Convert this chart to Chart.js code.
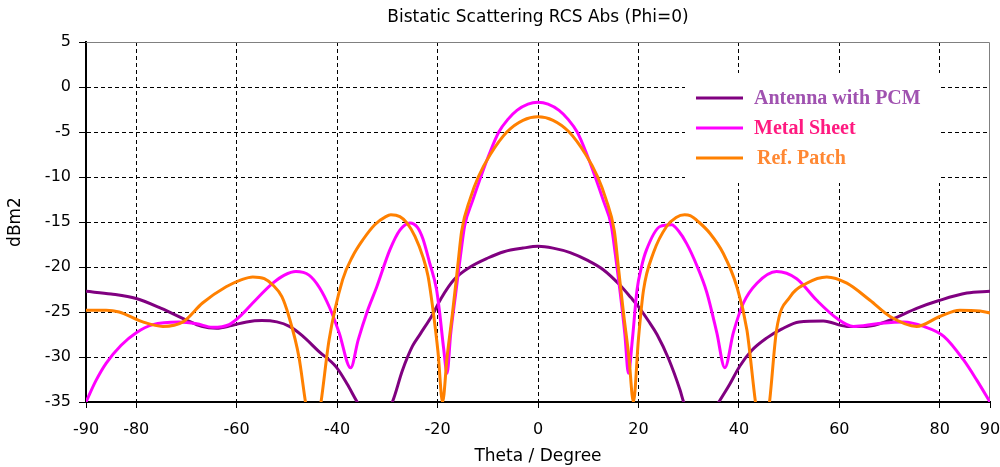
<!DOCTYPE html>
<html lang="en">
<head>
<meta charset="UTF-8">
<title>Bistatic Scattering RCS Abs (Phi=0)</title>
<script src="https://cdn.jsdelivr.net/npm/chart.js"></script>
<style>
  html, body { margin: 0; padding: 0; background: #fff; }
  canvas { display: block; }
</style>
</head>
<body>
<canvas id="rcsChart" width="1000" height="467"></canvas>
<script>
// values (theta in degrees, RCS in dBm2)
const chartTitle = 'Bistatic Scattering RCS Abs (Phi=0)';
const xTickValues = [-90, -80, -60, -40, -20, 0, 20, 40, 60, 80, 90];

const pcmTheta = [-90, -85, -80, -75, -70, -67, -64, -61, -58, -55, -52, -49.5, -47, -43.6, -40.2, -38, -36,
  -32.5, -29, -27, -25, -23.4, -21, -19.3, -16.7, -13.5, -10, -6.8, -3, 0, 3, 6.4, 10, 13, 16.3, 18.5,
  20, 22, 23.7, 26, 28.3, 29, 32.5, 36, 38, 40.2, 42.5, 45.5, 48.5, 52, 56.8, 61.5, 65.4, 70.1, 75.4, 80, 85.4, 90];
const pcmDb = [-22.7, -23.0, -23.5, -24.6, -25.9, -26.6, -26.8, -26.5, -26.1, -25.95, -26.1, -26.6, -27.6, -29.4, -31.1, -33.0, -35,
  -38, -35, -31.5, -28.8, -27.4, -25.3, -23.5, -21.4, -20.0, -19.0, -18.3, -17.9, -17.7, -17.9, -18.4, -19.3, -20.3, -22.0, -23.4,
  -24.4, -26.0, -27.5, -30.2, -33.7, -35, -38, -35, -33.2, -31.0, -29.3, -27.9, -26.9, -26.1, -26.0, -26.6, -26.6, -25.9, -24.6, -23.7, -22.9, -22.7];

const metalTheta = [-90, -88, -86, -83, -80, -76.7, -71.5, -68, -64.8, -61.5, -59, -56.8, -52.8, -50.5, -48.2, -45.6,
  -43.5, -41.5, -39.6, -37.3, -35.8, -34.1, -32.1, -29.5, -27.5, -25.5, -24, -22.9, -21.6, -20.2, -19.6, -18.8, -18.1,
  -17.4, -16.4, -15.4, -14.6, -13, -11.4, -9.6, -7.8, -6, -4.2, -2, 0, 2, 4.2, 6, 7.8, 9.6, 11.4, 13, 14.6, 15.4,
  16.4, 17.3, 18, 18.8, 19.7, 20.6, 21.6, 24.3, 26.6, 28, 29.6, 31.6, 33.6, 35.6, 37.2, 38.9, 40.9, 43.6, 47.5, 51.5, 55.5,
  59.5, 62.8, 67.5, 72.8, 76.8, 80.8, 84.7, 87.4, 90];
const metalDb = [-35, -32.6, -30.7, -28.7, -27.3, -26.4, -26.1, -26.3, -26.7, -26.4, -25.3, -24.0, -21.8, -20.9, -20.5, -20.9,
  -22.3, -24.5, -27.3, -31.2, -28.1, -25.1, -22.2, -18.1, -15.9, -15.1, -15.6, -16.9, -19.5, -22.5, -25.0, -29.0, -31.8,
  -27.5, -23.0, -18.6, -15.4, -12.6, -10.0, -7.3, -5.0, -3.6, -2.6, -1.9, -1.7, -1.9, -2.6, -3.6, -5.0, -7.3, -10.0, -12.6, -15.4, -18.6,
  -23.0, -27.5, -31.8, -28.0, -22.6, -20.0, -18.1, -15.5, -15.3, -16.0, -17.4, -19.8, -22.8, -27.3, -31.2, -27.3, -24.0, -21.8, -20.5, -21.3, -23.7,
  -25.7, -26.6, -26.3, -26.1, -26.6, -27.7, -30.3, -32.6, -35];

const patchTheta = [-90, -86, -83.4, -78.7, -74.7, -70.7, -66.8, -62.1, -59, -56.8, -54.5, -52.8, -51, -49.6, -47.6, -46.3,
  -44.7, -43.2, -41.6, -38.9, -36.9, -34.9, -32.5, -30.3, -29.3, -27.5, -26.1, -24.5, -22.9, -21.9, -20.9, -19.9, -19,
  -18.1, -17, -16, -15.2, -13.5, -11.9, -9.5, -6.2, -3, 0, 3, 6.2, 9.5, 11.9, 13.5, 15.2, 16, 17, 18.1, 19,
  20, 21, 23, 25.6, 27.5, 29.2, 30.3, 32, 34.3, 36.9, 39.6, 41.6, 43.3, 44.7, 46.1, 47.5, 50.2, 53.5, 57.5, 61.5,
  66.1, 70.1, 75.4, 80, 84, 88, 90];
const patchDb = [-24.8, -24.8, -25.0, -26.1, -26.6, -26.1, -24.0, -22.2, -21.4, -21.1, -21.3, -22.0, -23.3, -25.5, -30.0, -35,
  -40, -35, -28.1, -21.4, -18.8, -17.0, -15.3, -14.4, -14.2, -14.4, -15.1, -16.6, -18.9, -21.0, -24.8, -29.5, -35,
  -30.0, -25.0, -20.0, -16.0, -12.4, -10.0, -7.5, -5.0, -3.7, -3.3, -3.7, -5.0, -7.5, -10.0, -12.4, -16.0, -20.0, -25.0, -30.0, -35,
  -28.0, -22.6, -18.4, -15.5, -14.5, -14.2, -14.3, -15.0, -16.3, -18.5, -22.2, -27.0, -35, -40, -35, -27.0, -23.3, -21.8, -21.1, -21.8,
  -23.7, -25.5, -26.6, -25.5, -24.8, -24.9, -25.1];

const seriesNames = ['Antenna with PCM', 'Metal Sheet', 'Ref. Patch'];
const lineColors = ['#800080', '#ff00ff', '#ff8000'];
const labelColors = ['#a052b0', '#ff1a80', '#ff8833'];

function toPoints(xs, ys) {
  return xs.map((x, i) => ({ x: x, y: ys[i] }));
}

// title centred over the plot area + top / right edge of the frame
const framePlugin = {
  id: 'frame',
  beforeDatasetsDraw(chart) {
    const { ctx, chartArea: a } = chart;
    ctx.save();
    ctx.strokeStyle = '#808080';
    ctx.lineWidth = 1;
    ctx.beginPath();
    ctx.moveTo(a.left, a.top + 0.5);
    ctx.lineTo(a.right - 0.5, a.top + 0.5);
    ctx.lineTo(a.right - 0.5, a.bottom);
    ctx.stroke();
    ctx.fillStyle = '#000';
    ctx.font = '17px "DejaVu Sans", sans-serif';
    ctx.textAlign = 'center';
    ctx.textBaseline = 'middle';
    ctx.fillText(chartTitle, (a.left + a.right) / 2, 18);
    ctx.restore();
  }
};

// legend box inside the plot, upper right
const boxLegend = {
  id: 'boxLegend',
  beforeDatasetsDraw(chart) {
    const ctx = chart.ctx;
    const a = chart.chartArea;
    const bx = a.right - 305, by = a.top + 31;
    ctx.save();
    ctx.fillStyle = '#fff';
    ctx.fillRect(bx, by, 255, 110);
    ctx.font = 'bold 20px "Liberation Serif", serif';
    ctx.textBaseline = 'middle';
    seriesNames.forEach((name, i) => {
      const y = by + 25 + i * 30;
      ctx.strokeStyle = lineColors[i];
      ctx.lineWidth = 3;
      ctx.beginPath();
      ctx.moveTo(bx + 11, y);
      ctx.lineTo(bx + 58, y);
      ctx.stroke();
      ctx.fillStyle = labelColors[i];
      ctx.fillText(name, bx + 69 + (i === 2 ? 3 : 0), y + 1);
    });
    ctx.restore();
  }
};

const tickFont = { family: '"DejaVu Sans", sans-serif', size: 16 };

new Chart(document.getElementById('rcsChart'), {
  type: 'line',
  data: {
    datasets: [
      { label: seriesNames[0], data: toPoints(pcmTheta, pcmDb), borderColor: lineColors[0], order: 3 },
      { label: seriesNames[1], data: toPoints(metalTheta, metalDb), borderColor: lineColors[1], order: 2 },
      { label: seriesNames[2], data: toPoints(patchTheta, patchDb), borderColor: lineColors[2], order: 1 }
    ]
  },
  options: {
    responsive: false,
    animation: false,
    devicePixelRatio: 1,
    layout: { padding: { left: 0, right: 10, top: 42, bottom: 0 } },
    elements: {
      line: { borderWidth: 3, cubicInterpolationMode: 'monotone', fill: false },
      point: { radius: 0 }
    },
    plugins: {
      legend: { display: false },
      tooltip: { enabled: false },
      title: { display: false }
    },
    scales: {
      x: {
        type: 'linear',
        min: -90,
        max: 90,
        afterBuildTicks(s) { s.ticks = xTickValues.map(v => ({ value: v })); },
        afterFit(s) { s.height = 65; s.paddingLeft = 0; s.paddingRight = 0; },
        ticks: { color: '#000', font: tickFont, padding: 12, maxRotation: 0, autoSkip: false },
        grid: {
          color: c => (c.tick && Math.abs(c.tick.value) === 90) ? 'rgba(0,0,0,0)' : '#000',
          lineWidth: 1,
          tickColor: '#000',
          tickLength: 6,
          tickBorderDash: []
        },
        border: { color: '#000', width: 2, dash: [4, 3] },
        title: {
          display: true,
          text: 'Theta / Degree',
          color: '#000',
          font: { family: '"DejaVu Sans", sans-serif', size: 17 },
          padding: { top: 0, bottom: 0 }
        }
      },
      y: {
        min: -35,
        max: 5,
        afterFit(s) { s.width = 86; },
        ticks: { stepSize: 5, color: '#000', font: tickFont, padding: 8 },
        grid: {
          color: c => (c.tick && (c.tick.value === 5 || c.tick.value === -35)) ? 'rgba(0,0,0,0)' : '#000',
          lineWidth: 1,
          tickColor: '#000',
          tickLength: 7,
          tickBorderDash: []
        },
        border: { color: '#000', width: 2, dash: [4, 3] },
        title: {
          display: true,
          text: 'dBm2',
          color: '#000',
          font: { family: '"DejaVu Sans", sans-serif', size: 17 },
          padding: { top: 5, bottom: 0 }
        }
      }
    }
  },
  plugins: [framePlugin, boxLegend]
});
</script>
</body>
</html>
